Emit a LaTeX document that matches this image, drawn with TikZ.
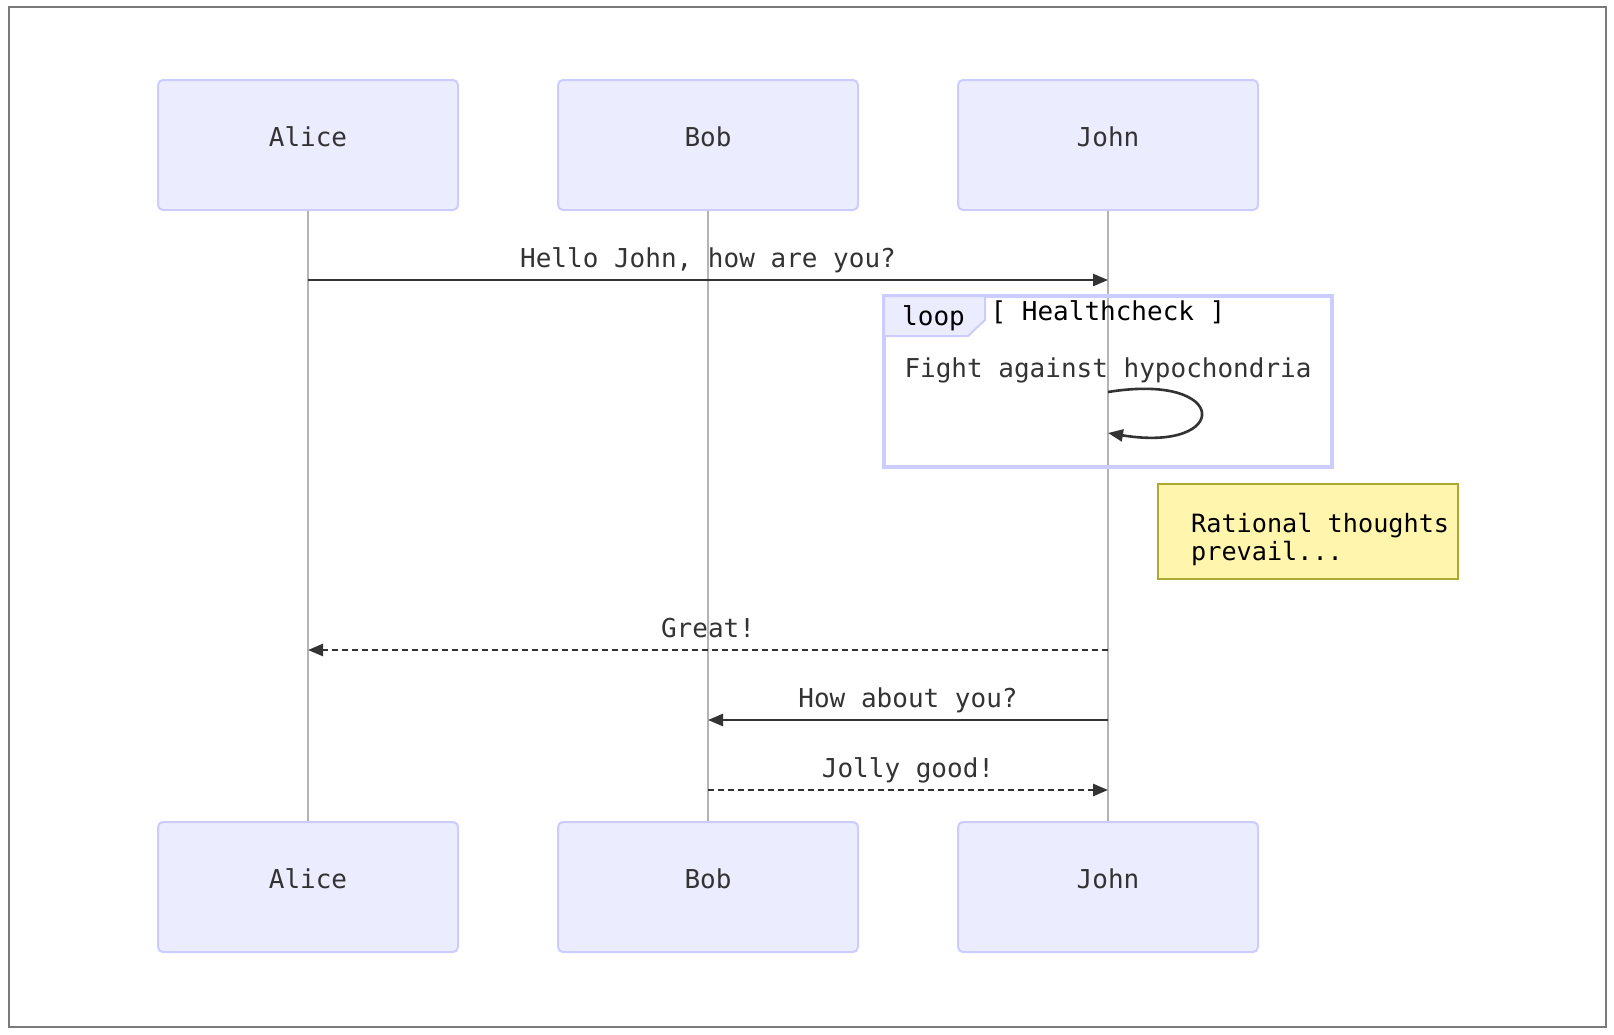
\documentclass[tikz,border=0pt]{standalone}
\usepackage{fontspec}
\setmonofont{DejaVu Sans Mono}
\usetikzlibrary{arrows.meta}

\begin{document}
\begin{tikzpicture}[x=1pt, y=-1pt,
        actor/.style={draw=seqActorLine, fill=seqActorFill, line width=2pt,
            rounded corners=5pt, minimum width=300pt, minimum height=130pt,
            inner sep=0pt, text=seqText, font=\seqFont,
            text height=19pt, text depth=16pt},
        lifeline/.style={draw=seqLifeline, line width=1.8pt},
        msg/.style={draw=seqMsgLine, line width=2.6pt,
            -{Triangle[length=15pt, width=12pt]}},
        reply/.style={msg, dash pattern=on 6pt off 4pt},
        msgtext/.style={anchor=base, yshift=13pt, inner sep=0pt,
            text=seqText, font=\seqFont},
        looptext/.style={anchor=base, inner sep=0pt, font=\seqFont}]
        % Farben
        \definecolor{seqActorFill}{HTML}{ECECFF}
        \definecolor{seqActorLine}{HTML}{CCCCFF}
        \definecolor{seqLifeline}{HTML}{B4B4B4}
        \definecolor{seqMsgLine}{HTML}{333333}
        \definecolor{seqText}{HTML}{333333}
        \definecolor{seqNoteFill}{HTML}{FFF5AD}
        \definecolor{seqNoteLine}{HTML}{AAAA33}
        \definecolor{seqFrame}{HTML}{7A7A7A}
        \providecommand{\seqFont}{\ttfamily\fontsize{26}{31}\selectfont}

        % Rahmen
        \useasboundingbox (0,0) rectangle (1614,1034);
        \draw[seqFrame, line width=2.4pt] (9,7) rectangle (1606,1027);

        % Teilnehmer: Name / Label / x-Position
        \foreach \n/\t/\x in {alice/Alice/308, bob/Bob/708, john/John/1108}
        {
            \node[actor] (\n-top) at (\x,145) {\t};
            \node[actor] (\n-bot) at (\x,887) {\t};
            % Lebenslinie
            \draw[lifeline] (\n-top.south) -- (\n-bot.north);
        }

        % Nachrichten
        \coordinate (helloS) at (alice-top |- 0,280);
        \coordinate (helloE) at (john-top |- 0,280);
        \draw[msg] (helloS) -- node[msgtext] (helloLbl) {Hello John, how are you?} (helloE);

        % Schleife
        \draw[seqActorLine, line width=3.6pt] (884,296) rectangle (1332,467);
        \draw[seqActorLine, fill=seqActorFill, line width=2pt]
            (884,296) -- (985,296) -- (985,320) -- (968,336) -- (884,336) -- cycle;
        \node[looptext, anchor=base west] (loopLbl) at (902,325) {loop};
        \node[looptext] (loopCond) at (1108,320) {[ Healthcheck ]};
        \node[looptext, text=seqText] (selfLbl) at (1108,377) {Fight against hypochondria};
        \coordinate (selfS) at (john-top |- 0,392);
        \coordinate (selfE) at (john-top |- 0,433);
        \draw[msg] (selfS) .. controls +(123,-20) and +(123,20) .. (selfE);

        % Notiz
        \node[draw=seqNoteLine, fill=seqNoteFill, line width=2pt,
            minimum width=300pt, minimum height=95pt] (noteBox) at (1308,531.5) {};
        \node[anchor=north west, inner sep=0pt, align=left,
            font=\ttfamily\fontsize{25.2}{28}\selectfont] (noteText) at (1191,513)
            {Rational thoughts\\prevail...};

        % Antworten
        \coordinate (greatS) at (john-top |- 0,650);
        \coordinate (greatE) at (alice-top |- 0,650);
        \draw[reply] (greatS) -- node[msgtext] (greatLbl) {Great!} (greatE);
        \coordinate (howS) at (john-top |- 0,720);
        \coordinate (howE) at (bob-top |- 0,720);
        \draw[msg] (howS) -- node[msgtext] (howLbl) {How about you?} (howE);
        \coordinate (jollyS) at (bob-top |- 0,790);
        \coordinate (jollyE) at (john-top |- 0,790);
        \draw[reply] (jollyS) -- node[msgtext] (jollyLbl) {Jolly good!} (jollyE);
    \end{tikzpicture}
\end{document}
